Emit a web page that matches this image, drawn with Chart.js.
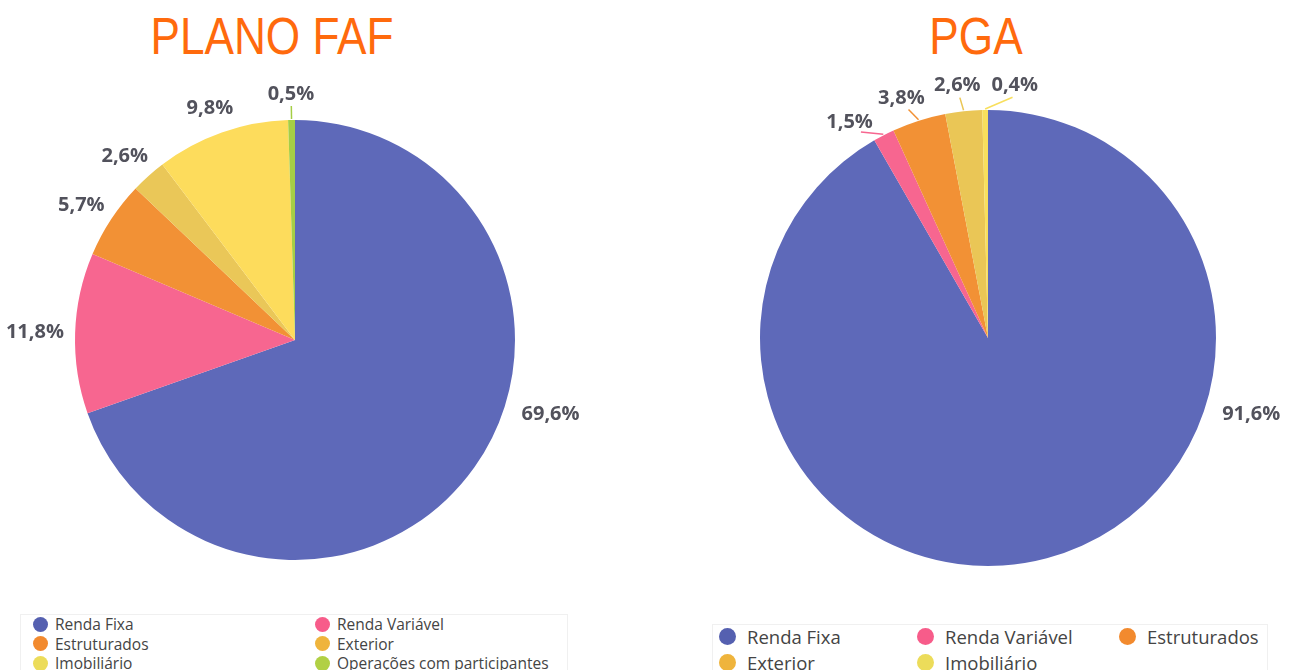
<!DOCTYPE html>
<html lang="pt-BR">
<head>
<meta charset="utf-8">
<script src="https://cdn.jsdelivr.net/npm/chart.js@4/dist/chart.umd.min.js"></script>
<style>
  html, body { margin: 0; padding: 0; background: #fff; }
  body { width: 1292px; height: 670px; position: relative; overflow: hidden; font-family: 'Open Sans', sans-serif; }
  .title { position: absolute; top: 6px; color: #ff6a0d; font-family: 'Liberation Sans', sans-serif; font-size: 52px; line-height: 60px; text-align: center; width: 400px; transform: scaleX(0.85); }
  .box { position: absolute; }
  .legend { position: absolute; border: 1px solid #f0f0f0; border-bottom: none; display: grid; color: #444; }
  .legend span { display: flex; align-items: center; white-space: nowrap; }
  .legend i { display: inline-block; border-radius: 50%; flex: none; }
  #legFaf { left: 20px; top: 614px; width: 548px; height: 60px; grid-template-columns: 282px 266px; font-size: 15.5px; padding-left: 12px; box-sizing: border-box; }
  #legFaf span { height: 18px; }
  #legFaf i { width: 15px; height: 15px; margin-right: 7px; }
  #legPga { left: 712px; top: 624px; width: 556px; height: 52px; grid-template-columns: 198px 202px 150px; font-size: 18.5px; padding-left: 6px; box-sizing: border-box; }
  #legPga span { height: 23px; }
  #legPga i { width: 17px; height: 17px; margin-right: 11px; }
</style>
</head>
<body>
<div class="title" style="left:72px">PLANO FAF</div>
<div class="title" style="left:776px">PGA</div>
<div class="box" style="left:0;top:60px;width:646px;height:550px"><canvas id="faf"></canvas></div>
<div class="box" style="left:646px;top:60px;width:646px;height:550px"><canvas id="pga"></canvas></div>
<div class="legend" id="legFaf"></div>
<div class="legend" id="legPga"></div>
<script>
// categorias e valores (%)
const fafLabels = ['Renda Fixa', 'Renda Variável', 'Estruturados', 'Exterior', 'Imobiliário', 'Operações com participantes'];
const fafValues = [69.6, 11.8, 5.7, 2.6, 9.8, 0.5];
const fafColors = ['#5e69b9', '#f76690', '#f29135', '#eac758', '#fddc5c', '#a5ce45'];

const pgaLabels = ['Renda Fixa', 'Renda Variável', 'Estruturados', 'Exterior', 'Imobiliário'];
const pgaValues = [91.6, 1.5, 3.8, 2.6, 0.4];
const pgaColors = ['#5e69b9', '#f76690', '#f29135', '#eac656', '#f8df5d'];

// a legenda usa tons um pouco mais saturados
const legendColors = {
  'Renda Fixa': '#5560b0', 'Renda Variável': '#f75c8a', 'Estruturados': '#f28a2e',
  'Exterior': '#efb43c', 'Imobiliário': '#ecdc5a', 'Operações com participantes': '#b1d044',
};

const fmt = (v) => v.toFixed(1).replace('.', ',') + '%';
const DEG = Math.PI / 180;

const outerLabels = {
  id: 'outerLabels',
  afterDatasetsDraw(chart, _args, opts) {
    const { ctx } = chart;
    const meta = chart.getDatasetMeta(0);
    const values = chart.data.datasets[0].data;
    const colors = chart.data.datasets[0].backgroundColor;
    const items = meta.data.map((arc, i) => {
      const p = arc.getProps(['x', 'y', 'startAngle', 'endAngle', 'outerRadius'], true);
      const mid = (p.startAngle + p.endAngle) / 2;
      const big = values[i] > 50;
      return { i, p, mid, ang: big ? -Math.PI / 2 + opts.mainAngle * DEG : mid, big };
    });
    // afasta rótulos pequenos que ficariam sobrepostos
    const small = items.filter((d) => !d.big).sort((a, b) => a.ang - b.ang);
    const sep = opts.minSep * DEG;
    for (let k = 0; k < 60; k++) {
      for (let j = 1; j < small.length; j++) {
        const gap = small[j].ang - small[j - 1].ang;
        if (gap < sep) {
          const d = (sep - gap) / 2;
          small[j].ang += d;
          small[j - 1].ang -= d;
        }
      }
    }
    ctx.save();
    ctx.font = 'bold 20px "Open Sans", sans-serif';
    ctx.textAlign = 'center';
    ctx.textBaseline = 'middle';
    items.forEach((d) => {
      const { x, y, outerRadius: r } = d.p;
      const c = Math.cos(d.ang), s = Math.sin(d.ang);
      if (!d.big && values[d.i] < opts.leaderMax) {
        ctx.strokeStyle = colors[d.i];
        ctx.lineWidth = 1.5;
        ctx.beginPath();
        ctx.moveTo(x + Math.cos(d.mid) * (r + 1), y + Math.sin(d.mid) * (r + 1));
        ctx.lineTo(x + c * (r + 14), y + s * (r + 14));
        ctx.stroke();
      }
      const text = fmt(values[d.i]);
      const w = ctx.measureText(text).width;
      const gap = d.big ? 24 : 17;
      const ax = x + c * (r + gap) + c * w * 0.4;
      const ay = y + s * (r + gap) + s * 9;
      ctx.fillStyle = '#52525c';
      ctx.fillText(text, ax, ay);
    });
    ctx.restore();
  },
};

function renderPie(canvasId, { labels, data, colors, padding, labelOpts }) {
  const el = document.getElementById(canvasId);
  return new Chart(el, {
    type: 'pie',
    data: { labels, datasets: [{ data, backgroundColor: colors, borderWidth: 0 }] },
    options: {
      responsive: true,
      maintainAspectRatio: false,
      animation: false,
      layout: { padding },
      plugins: {
        legend: { display: false },
        tooltip: { enabled: false },
        outerLabels: labelOpts,
      },
    },
    plugins: [outerLabels],
  });
}

function renderLegend(id, chart) {
  const box = document.getElementById(id);
  chart.data.labels.forEach((label) => {
    const item = document.createElement('span');
    const dot = document.createElement('i');
    dot.style.background = legendColors[label];
    item.append(dot, label);
    box.append(item);
  });
}

const fafChart = renderPie('faf', {
  labels: fafLabels, data: fafValues, colors: fafColors,
  padding: { left: 75, right: 131, top: 60, bottom: 50 },
  labelOpts: { mainAngle: 107, minSep: 14, leaderMax: 1 },
});
const pgaChart = renderPie('pga', {
  labels: pgaLabels, data: pgaValues, colors: pgaColors,
  padding: { left: 114, right: 76, top: 50, bottom: 44 },
  labelOpts: { mainAngle: 107, minSep: 12.5, leaderMax: 5 },
});
renderLegend('legFaf', fafChart);
renderLegend('legPga', pgaChart);
</script>
</body>
</html>
